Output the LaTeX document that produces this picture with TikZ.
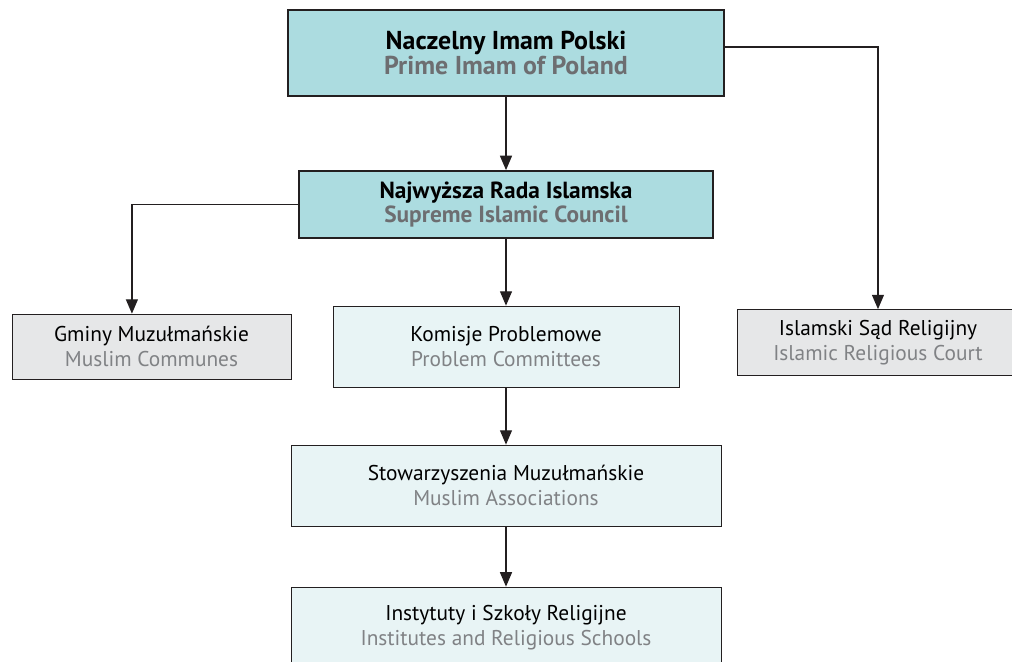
\documentclass[tikz,border=0pt]{standalone}
\usepackage{fontspec}
\setmainfont{PT Sans}
\usepackage{tikz}
\usetikzlibrary{arrows.meta, positioning}
\definecolor{mydark}{RGB}{35,31,32}
\definecolor{mygreytxt}{RGB}{109,110,113}
\definecolor{mylighttxt}{RGB}{128,130,133}
\definecolor{hdrteal}{RGB}{172,220,224}
\definecolor{paleteal}{RGB}{232,244,245}
\definecolor{palegrey}{RGB}{230,231,232}
\tikzset{
  headbox/.style={rectangle, draw=mydark, fill=hdrteal, align=center,
    font=\fontsize{16.6}{17}\selectfont\bfseries, line width=1.1pt},
  unitbox/.style={rectangle, draw=mydark, fill=paleteal, align=center,
    font=\fontsize{15.2}{17.5}\selectfont, line width=0.7pt},
  sidebox/.style={rectangle, draw=mydark, fill=palegrey, align=center,
    font=\fontsize{15.2}{17.5}\selectfont, line width=0.7pt},
  arrow/.style={-{Triangle[length=0.36cm,width=0.3cm]}, line width=0.9pt, color=mydark},
  entxt/.style={color=mylighttxt}
}

\begin{document}
\begin{tikzpicture}[node distance=1.5cm and 1.5cm]
  \useasboundingbox (0,0) rectangle (25.3,-16.55);
  \node[headbox, minimum width=10.9cm, minimum height=2.15cm, line width=1.6pt,
    font=\fontsize{18.4}{16.5}\selectfont\bfseries] (imam) at (12.65,-1.325)
    {Naczelny Imam Polski\\\textcolor{mygreytxt}{Prime Imam of Poland}};
  \node[headbox, minimum width=10.35cm, minimum height=1.675cm, below=1.825cm of imam] (rada)
    {Najwyższa Rada Islamska\\\textcolor{mygreytxt}{Supreme Islamic Council}};
  \node[unitbox, minimum width=8.65cm, minimum height=2.025cm, below=1.675cm of rada] (komisje)
    {Komisje Problemowe\\\textcolor{mylighttxt}{Problem Committees}};
  \node[unitbox, minimum width=10.75cm, minimum height=2.025cm, below=1.425cm of komisje] (stow)
    {Stowarzyszenia Muzułmańskie\\\textcolor{mylighttxt}{Muslim Associations}};
  \node[unitbox, minimum width=10.75cm, minimum height=2.025cm, below=1.5cm of stow] (inst)
    {Instytuty i Szkoły Religijne\\\textcolor{mylighttxt}{Institutes and Religious Schools}};
  \node[sidebox, minimum width=6.975cm, minimum height=1.625cm, left=1.025cm of komisje] (gminy)
    {Gminy Muzułmańskie\\\textcolor{mylighttxt}{Muslim Communes}};
  \node[sidebox, minimum width=7cm, minimum height=1.65cm, right=1.45cm of komisje, yshift=0.1cm] (sad)
    {Islamski Sąd Religijny\\\textcolor{mylighttxt}{Islamic Religious Court}};

  \draw[arrow] (imam) -- (rada);
  \draw[arrow] (rada) -- (komisje);
  \draw[arrow] (komisje) -- (stow);
  \draw[arrow] (stow) -- (inst);
  % side branches
  \draw[arrow] (rada.west) -| ([xshift=-0.49cm]gminy.north);
  \draw[arrow] ([yshift=0.15cm]imam.east) -| (sad.north);
\end{tikzpicture}
\end{document}
